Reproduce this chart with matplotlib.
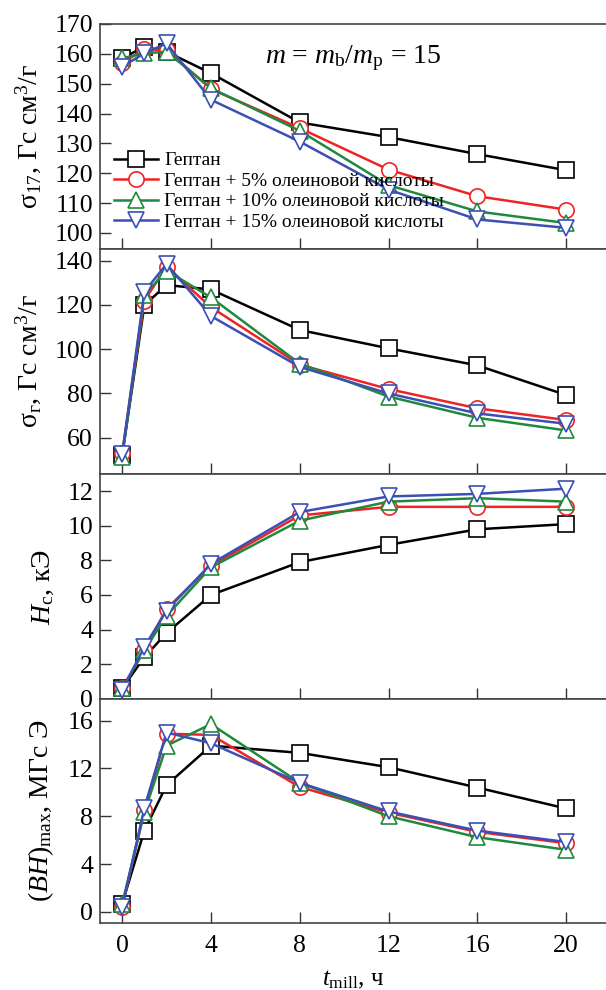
import numpy as np
import matplotlib
matplotlib.use('Agg')
from matplotlib import pyplot as plt

plt.rcParams['font.family'] = ['Liberation Serif', 'DejaVu Serif']
plt.rcParams['mathtext.fontset'] = 'custom'
plt.rcParams['mathtext.rm'] = 'Liberation Serif'
plt.rcParams['mathtext.it'] = 'Liberation Serif:italic'
plt.rcParams['mathtext.bf'] = 'Liberation Serif:bold'

## data
t_mill = [0, 1, 2, 4, 8, 12, 16, 20]
labels = ['Гептан', 'Гептан + 5% олеиновой кислоты',
          'Гептан + 10% олеиновой кислоты', 'Гептан + 15% олеиновой кислоты']

sigma17 = [
    [158.5, 162.4, 160.7, 153.5, 137.0, 132.1, 126.4, 121.0],
    [157.0, 161.5, 161.3, 148.2, 135.1, 121.2, 112.3, 107.8],
    [158.5, 160.2, 160.7, 148.5, 134.2, 116.0, 107.2, 103.3],
    [155.7, 160.2, 163.5, 144.6, 130.6, 114.5, 104.5, 101.7],
]
sigma_r = [
    [52.0, 120.0, 129.0, 127.0, 108.7, 100.4, 92.7, 79.3],
    [53.0, 122.0, 137.3, 119.0, 93.0, 82.0, 73.3, 68.0],
    [51.5, 124.5, 135.5, 123.4, 93.5, 78.6, 69.0, 63.3],
    [52.5, 126.0, 138.5, 115.0, 92.0, 80.0, 71.0, 66.3],
]
Hc = [
    [0.6, 2.4, 3.8, 6.0, 7.9, 8.9, 9.8, 10.1],
    [0.6, 2.8, 5.2, 7.7, 10.6, 11.1, 11.1, 11.1],
    [0.6, 2.8, 4.8, 7.6, 10.3, 11.4, 11.6, 11.4],
    [0.5, 3.0, 5.1, 7.8, 10.8, 11.7, 11.85, 12.15],
]
BHmax = [
    [0.7, 6.8, 10.6, 13.9, 13.3, 12.1, 10.4, 8.65],
    [0.4, 8.5, 14.9, 14.8, 10.45, 8.3, 6.7, 5.75],
    [0.7, 8.35, 13.9, 15.7, 10.8, 8.0, 6.25, 5.2],
    [0.4, 8.7, 15.0, 14.1, 10.8, 8.4, 6.8, 5.85],
]

colors = ['black', '#ee2424', '#1f8a3e', '#3b4fb5']
markers = ['s', 'o', '^', 'v']

panels = [
    (sigma17, 'σ$_{17}$, Гс см$^{3}$/г', (94.6, 170), [100, 110, 120, 130, 140, 150, 160, 170]),
    (sigma_r, 'σ$_{\\rm г}$, Гс см$^{3}$/г', (43.6, 145.3), [60, 80, 100, 120, 140]),
    (Hc, '$H_{\\rm c}$, кЭ', (-0.02, 13.0), [0, 2, 4, 6, 8, 10, 12]),
    (BHmax, '$(BH)_{\\rm max}$, МГс Э', (-0.92, 17.8), [0, 4, 8, 12, 16]),
]

fig = plt.figure(figsize=(6.06, 9.9), dpi=100)
H = 990.0
W = 606.0
edges = [24, 249, 474, 699, 923]
left = 100 / W
width = 1.0 - left

axes = []
for i, (data, ylab, ylim, yticks) in enumerate(panels):
    y0 = 1 - edges[i + 1] / H
    h = (edges[i + 1] - edges[i]) / H
    ax = fig.add_axes([left, y0, width, h])
    for j in range(4):
        ax.plot(t_mill, data[j], color=colors[j], marker=markers[j], ms=11,
                mfc='white', mec=colors[j], mew=1.2, lw=1.8, label=labels[j])
    ax.set_xlim(-1, 21.8)
    ax.set_ylim(*ylim)
    ax.set_yticks(yticks)
    ax.set_xticks([0, 4, 8, 12, 16, 20])
    ax.tick_params(direction='in', length=8, width=1, labelsize=18.5, color='#333333')
    ax.tick_params(axis='y', pad=5)
    ax.tick_params(axis='x', pad=9)
    ax.spines['right'].set_visible(False)
    for s in ['left', 'top', 'bottom']:
        ax.spines[s].set_color('#444444')
        ax.spines[s].set_linewidth(1.2)
    if i < 3:
        ax.tick_params(labelbottom=False)
    ax.set_ylabel(ylab, fontsize=20, labelpad=8)
    axes.append(ax)

axes[0].text(0.5, 0.85, '$m$ = $m_{\\rm b}$/$m_{\\rm p}$ = 15', transform=axes[0].transAxes,
             ha='center', va='center', fontsize=20)
axes[0].legend(loc='lower left', bbox_to_anchor=(0.0, 0.02), frameon=False, fontsize=14,
               handlelength=2.3, handletextpad=0.3, labelspacing=0.15, borderaxespad=0.3)
axes[3].set_xlabel('$t_{\\rm mill}$, ч', fontsize=18, labelpad=8)

fig.savefig('out.png', dpi=100)
